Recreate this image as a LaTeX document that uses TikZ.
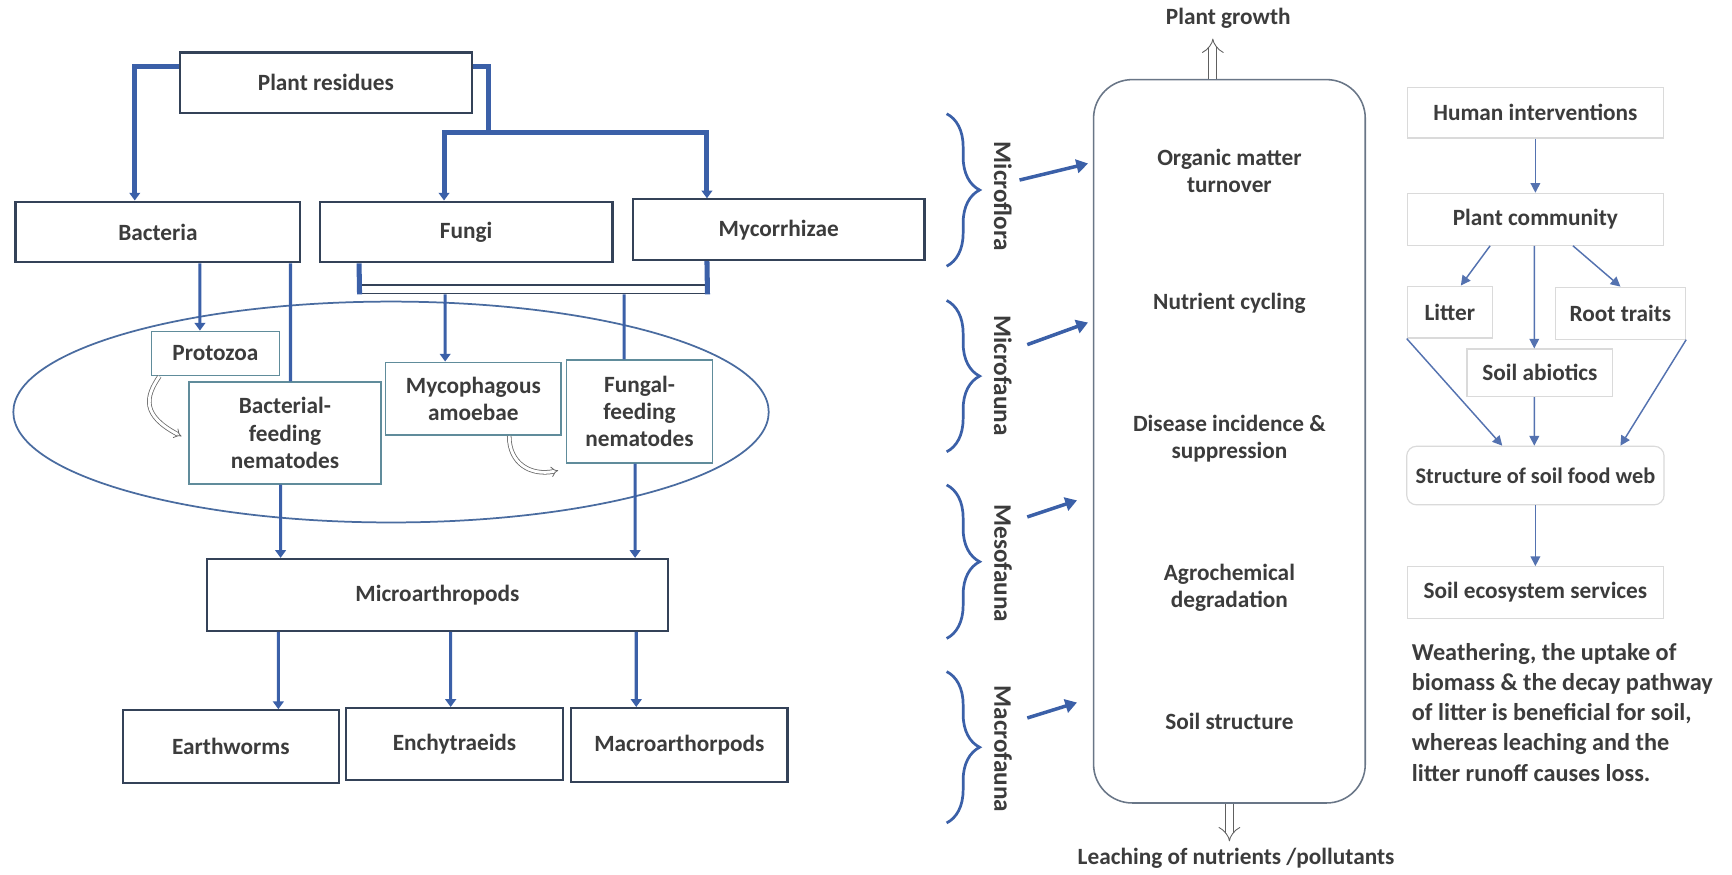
\documentclass[tikz,border=0pt]{standalone}
\usepackage{fontspec}
\setmainfont{Carlito}
\usetikzlibrary{arrows.meta, positioning, calc, decorations.pathreplacing}

\definecolor{linkblue}{RGB}{59,96,168}
\definecolor{boxline}{RGB}{52,66,88}
\definecolor{tealline}{RGB}{96,140,155}
\definecolor{ellblue}{RGB}{74,108,160}
\definecolor{midline}{RGB}{105,118,135}
\definecolor{lightline}{RGB}{218,218,218}
\definecolor{lightblue}{RGB}{84,114,176}
\definecolor{txt}{RGB}{60,60,60}

\begin{document}
\begin{tikzpicture}[x=0.02cm, y=-0.02cm,
  font=\fontsize{12}{14}\selectfont\bfseries, text=txt,
  box/.style={draw=boxline, line width=1.1pt, fill=white, align=center},
  subbox/.style={draw=tealline, line width=0.8pt, fill=white, align=center, inner sep=1pt},
  feed/.style={draw=linkblue, line width=1.6pt},
  feedthick/.style={draw=linkblue, line width=2.6pt},
  tip/.style={-{Triangle[width=5.5pt,length=4pt]}},
  turn/.style={draw=gray!80!black, line width=0.4pt, double=white, double distance=1.5pt, -{Implies}},
  hollow/.style={draw=gray!75!black, line width=0.45pt, double=white, double distance=3.6pt, -{Implies}},
  group/.style={draw=linkblue, line width=1.4pt, decorate, decoration={brace, amplitude=17pt}},
  grouplabel/.style={rotate=-90, font=\fontsize{13}{15}\selectfont\bfseries},
  push/.style={draw=linkblue, line width=1.8pt, -{Triangle[width=7pt,length=6pt]}},
  lbox/.style={draw=lightline, line width=0.6pt, fill=white, align=center},
  lflow/.style={draw=lightblue, line width=0.75pt, -{Triangle[width=5pt,length=5pt]}}
]

% Page
\fill[white] (0,0) rectangle (1568,790);

% Soil food web
\draw[draw=ellblue, line width=0.9pt] (354,373) ellipse [x radius=6.84cm, y radius=2cm];

\node[box, minimum width=5.28cm, minimum height=1.1cm] (res) at (295,75) {Plant residues};
\node[box, minimum width=5.16cm, minimum height=1.1cm] (bact) at (143,210) {Bacteria};
\node[box, minimum width=5.3cm, minimum height=1.1cm] (fungi) at (422,210) {Fungi};
\node[box, minimum width=5.28cm, minimum height=1.1cm] (myco) at (705,208) {Mycorrhizae};

\node[subbox, minimum width=2.32cm, minimum height=0.8cm] (proto) at (195,320) {Protozoa};
\node[subbox, minimum width=3.48cm, minimum height=1.84cm] (bfn) at (258,392) {Bacterial-\\feeding\\nematodes};
\node[subbox, minimum width=3.18cm, minimum height=1.32cm] (amoe) at (428.5,361) {Mycophagous\\amoebae};
\node[subbox, minimum width=2.64cm, minimum height=1.86cm] (ffn) at (579,372.5) {Fungal-\\feeding\\nematodes};

\node[box, minimum width=8.36cm, minimum height=1.3cm] (marth) at (396,538.5) {Microarthropods};
\node[box, minimum width=3.92cm, minimum height=1.32cm] (earth) at (209,676) {Earthworms};
\node[box, minimum width=3.94cm, minimum height=1.3cm] (ench) at (411.5,673.5) {Enchytraeids};
\node[box, minimum width=3.92cm, minimum height=1.34cm] (macro) at (615,674.5) {Macroarthorpods};

% residues split
\coordinate (rsplit) at (442,120);
\draw[feedthick, tip] ([yshift=-0.28cm]res.north west) -| ([xshift=-0.42cm]bact.north);
\draw[feedthick] ([yshift=-0.28cm]res.north east) -| (rsplit);
\draw[feedthick, tip] (rsplit) -| ([xshift=-0.4cm]fungi.north);
\draw[feedthick, tip] (rsplit) -| ([xshift=-1.3cm]myco.north);

% fungal bar
\node[draw=boxline, line width=0.6pt, minimum width=6.28cm, minimum height=0.16cm, inner sep=0pt] (fbar) at (483,262) {};
\draw[feedthick] ([xshift=0.73cm]fungi.south west) -- (fbar.south west);
\draw[feedthick] ([xshift=-1.3cm]myco.south) -- (fbar.south east);

% grazers
\draw[feed, tip] ([xshift=0.76cm]bact.south) -- ([xshift=-0.28cm]proto.north);
\draw[feed] ([xshift=2.4cm]bact.south) -- ([xshift=0.1cm]bfn.north);
\draw[feed, tip] ([xshift=-1.6cm]fbar.south) -- ([xshift=-0.51cm]amoe.north);
\draw[feed] ([xshift=1.64cm]fbar.south) -- ([xshift=-0.28cm]ffn.north);
\draw[turn] ([xshift=0.16cm]proto.south west) .. controls +(-13,19) and +(-36,-19) .. ([xshift=-0.12cm,yshift=-0.06cm]bfn.west);
\draw[turn] ([xshift=0.65cm]amoe.south) .. controls +(0,25) and +(-25,5) .. ([xshift=-0.14cm,yshift=-1.07cm]ffn.west);

% higher levels
\draw[feed, tip] ([xshift=-0.08cm]bfn.south) -- ([xshift=-2.84cm]marth.north);
\draw[feed, tip] ([xshift=-0.08cm]ffn.south) -- ([xshift=3.58cm]marth.north);
\draw[feed, tip] ([xshift=-2.88cm]marth.south) -- ([xshift=0.86cm]earth.north);
\draw[feed, tip] ([xshift=0.24cm]marth.south) -- ([xshift=-0.07cm]ench.north);
\draw[feed, tip] ([xshift=3.6cm]marth.south) -- ([xshift=-0.78cm]macro.north);

% Functions
\node[draw=midline, line width=0.8pt, rounded corners=0.7cm, minimum width=4.92cm, minimum height=13.1cm] (fnbox) at (1113,399.5) {};
\node[align=center] (org) at (1113,155) {Organic matter\\turnover};
\node (nut) at (1113,275) {Nutrient cycling};
\node[align=center] (dis) at (1113,397) {Disease incidence \&\\suppression};
\node[align=center] (agro) at (1113,532) {Agrochemical\\degradation};
\node (soil) at (1113,653) {Soil structure};

\node (growth) at (1112,17) {Plant growth};
\coordinate (gtip) at (1098,35);
\draw[hollow] (gtip |- fnbox.north) -- (gtip);
\node (leach) at (1119,777) {Leaching of nutrients /pollutants};
\draw[hollow] (fnbox.south) -- (fnbox.south |- leach.north);

% Size classes
\draw[group] (857,103) -- (857,241);
\node[grouplabel] (flo) at (908,178) {Microflora};
\draw[group] (857,272) -- (857,409);
\node[grouplabel] (mfa) at (908,340) {Microfauna};
\draw[group] (857,439) -- (857,578);
\node[grouplabel] (mes) at (908,510) {Mesofauna};
\draw[group] (857,608) -- (857,745);
\node[grouplabel] (mac) at (908,678) {Macrofauna};

\coordinate (flo-s) at (923,163); \coordinate (flo-e) at (985,148);
\coordinate (mfa-s) at (930,312); \coordinate (mfa-e) at (985,292);
\coordinate (mes-s) at (930,468); \coordinate (mes-e) at (975,453);
\coordinate (mac-s) at (930,650); \coordinate (mac-e) at (975,636);
\draw[push] (flo-s) -- (flo-e);
\draw[push] (mfa-s) -- (mfa-e);
\draw[push] (mes-s) -- (mes-e);
\draw[push] (mac-s) -- (mac-e);

% Drivers
\node[lbox, minimum width=4.64cm, minimum height=0.92cm] (hum) at (1390,102) {Human interventions};
\node[lbox, minimum width=4.64cm, minimum height=0.94cm] (pcom) at (1390,198.5) {Plant community};
\node[lbox, minimum width=1.54cm, minimum height=0.94cm] (lit) at (1312.5,282.5) {Litter};
\node[lbox, minimum width=2.36cm, minimum height=0.94cm] (root) at (1467,283.5) {Root traits};
\node[lbox, minimum width=2.64cm, minimum height=0.86cm] (abio) at (1394,337.5) {Soil abiotics};
\node[lbox, rounded corners=5pt, minimum width=4.66cm, minimum height=1.06cm, font=\fontsize{11.5}{13}\selectfont\bfseries] (web) at (1390,430.5) {Structure of soil food web};
\node[lbox, minimum width=4.64cm, minimum height=0.94cm] (ses) at (1390,536.5) {Soil ecosystem services};
\node[anchor=west, align=left, font=\fontsize{12.5}{15.5}\selectfont\bfseries] (note) at (1272,645) {Weathering, the uptake of\\biomass \& the decay pathway\\of litter is beneficial for soil,\\whereas leaching and the\\litter runoff causes loss.};

\draw[lflow] (hum) -- (pcom);
\draw[lflow] ([xshift=-0.82cm]pcom.south) -- ([xshift=0.2cm]lit.north);
\draw[lflow] ([xshift=-0.02cm]pcom.south) -- ([xshift=-0.1cm]abio.north);
\draw[lflow] ([xshift=0.68cm]pcom.south) -- (root.north);
\draw[lflow] (lit.south west) -- ([xshift=-0.6cm]web.north);
\draw[lflow] ([xshift=-0.1cm]abio.south) -- ([xshift=-0.02cm]web.north);
\draw[lflow] (root.south east) -- ([xshift=1.54cm]web.north);
\draw[lflow] (web) -- (ses);

\end{tikzpicture}
\end{document}
